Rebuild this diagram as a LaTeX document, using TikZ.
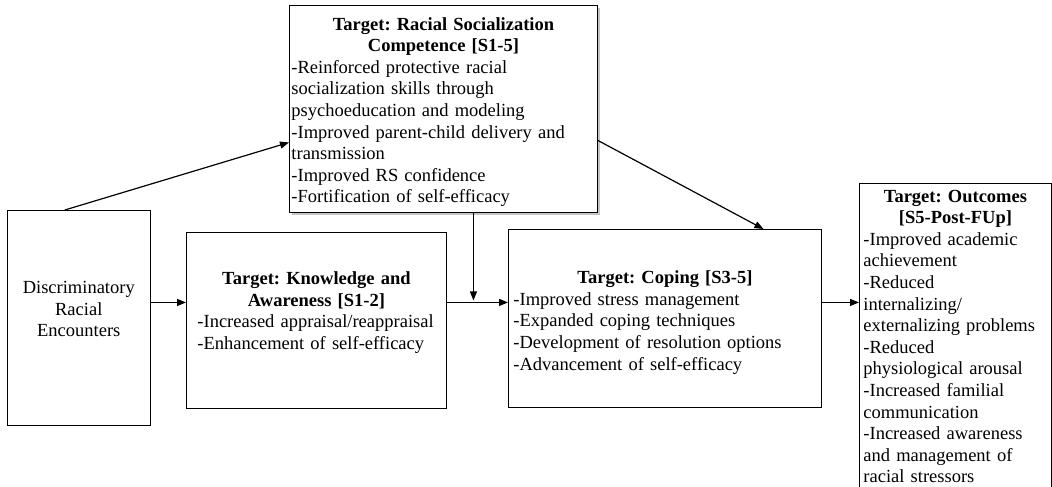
\documentclass[tikz,border=0pt]{standalone}
\usepackage{fontspec}
\setmainfont{Liberation Serif}
\usetikzlibrary{arrows.meta,shadows}
\setlength{\parindent}{0pt}
\frenchspacing

\begin{document}
\begin{tikzpicture}[x=1pt, y={(0pt,-1pt)}, >={Triangle[length=9pt,width=7pt]},
        box/.style={draw, line width=0.9pt, anchor=north west, inner ysep=0pt,
            font={\fontsize{18.5}{21.6}\selectfont}},
        link/.style={line width=1.2pt, ->}]

        % Page frame
        \path[use as bounding box, clip] (0,0) rectangle (1052,487);

        % Boxes
        \node[box, minimum width=140pt, minimum height=215pt, text width=136pt, align=center] (dre) at (7,210)
            {Discriminatory\\ Racial\\ Encounters\rule[-18pt]{0pt}{18pt}};

        \node[box, fill=white, drop shadow={shadow xshift=2.5pt, shadow yshift=-2.5pt, fill=black!45},
            minimum width=308pt, minimum height=207pt, text width=304pt, inner xsep=2pt] (rs) at (289,5)
            {{\centering\bfseries\rule{0pt}{19pt}Target: Racial Socialization\\ Competence [S1-5]\par}
            \raggedright -Reinforced protective racial\\ socialization skills through\\ psychoeducation and modeling\\
            -Improved parent-child delivery and\\ transmission\\ -Improved RS confidence\\ -Fortification of self-efficacy};

        \node[box, minimum width=260pt, minimum height=176pt, text width=256pt, inner xsep=2pt] (ka) at (186,232)
            {{\centering\bfseries Target: Knowledge and\\ Awareness [S1-2]\par}
            \raggedright\leftskip=9pt -Increased appraisal/reappraisal\\ -Enhancement of self-efficacy\rule[-20pt]{0pt}{20pt}\par};

        \node[box, minimum width=313pt, minimum height=178pt, text width=303pt, inner xsep=5pt] (cop) at (508,229)
            {{\centering\bfseries\rule{0pt}{21pt}Target: Coping [S3-5]\par}
            \raggedright -Improved stress management\\ -Expanded coping techniques\\
            -Development of resolution options\\ -Advancement of self-efficacy};

        \node[box, minimum width=192pt, minimum height=318pt, text width=184pt, inner xsep=4pt] (out) at (859,183)
            {{\centering\bfseries Target: Outcomes\\ {[S5-Post-FUp]}\par}
            \raggedright -Improved academic\\ achievement\\ -Reduced\\ internalizing/\\ externalizing problems\\
            -Reduced\\ physiological arousal\\ -Increased familial\\ communication\\
            -Increased awareness\\ and management of\\ racial stressors\rule[-12pt]{0pt}{12pt}};

        % Arrows
        \draw[link] ([xshift=-14pt]dre.north) -- ([yshift=-33.5pt]rs.west);
        \draw[link] ([yshift=15.5pt]dre.east) -- ([yshift=15.5pt]dre.east -| ka.west);
        \coordinate (kc) at ([yshift=18pt]ka.east);
        \draw[link] (kc) -- (kc -| cop.west);
        \draw[link, shorten >=2pt] ([xshift=30pt]rs.south) -- ([xshift=30pt]rs.south |- kc);
        \draw[link] ([yshift=-31.5pt]rs.east) -- ([xshift=98.5pt]cop.north);
        \draw[link] ([yshift=16pt]cop.east) -- ([yshift=16pt]cop.east -| out.west);

    \end{tikzpicture}
\end{document}
